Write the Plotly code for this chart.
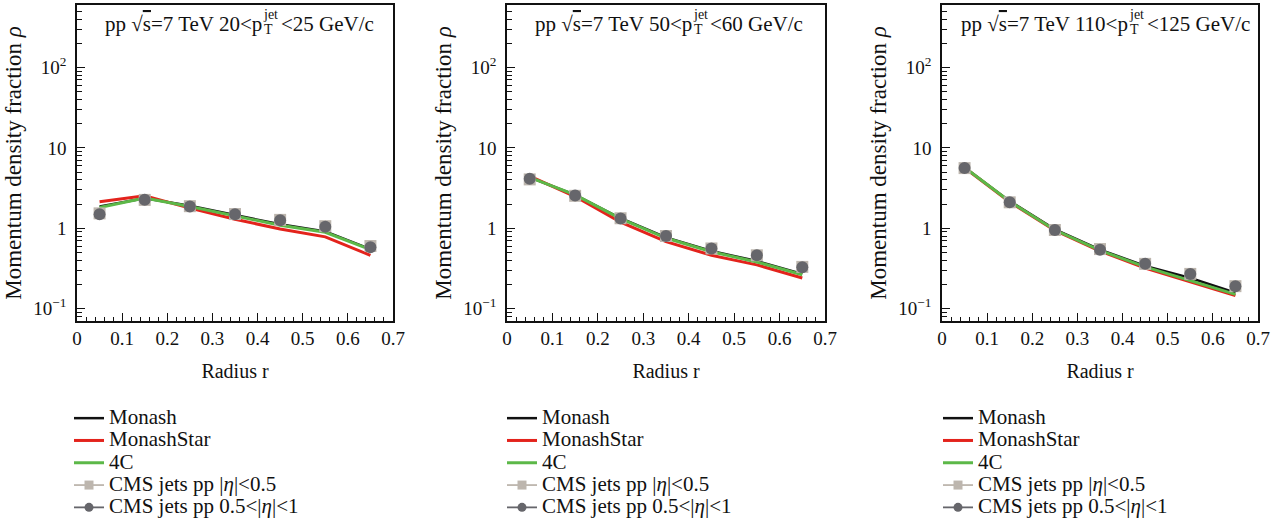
import math
import plotly.graph_objects as go

# ---- data -------------------------------------------------------------
radius = [0.05, 0.15, 0.25, 0.35, 0.45, 0.55, 0.65]

pt_bins = [("20", "25"), ("50", "60"), ("110", "125")]

monash_1 = [1.86, 2.36, 1.90, 1.45, 1.12, 0.91, 0.55]
star_1 = [2.13, 2.54, 1.78, 1.29, 0.98, 0.78, 0.46]
c4_1 = [1.81, 2.38, 1.86, 1.42, 1.09, 0.89, 0.54]
cms_a_1 = [1.53, 2.25, 1.88, 1.50, 1.27, 1.06, 0.60]
cms_b_1 = [1.49, 2.26, 1.86, 1.49, 1.26, 1.04, 0.58]

monash_2 = [4.30, 2.60, 1.33, 0.77, 0.52, 0.39, 0.270]
star_2 = [4.45, 2.48, 1.19, 0.68, 0.46, 0.35, 0.240]
c4_2 = [4.30, 2.60, 1.32, 0.755, 0.51, 0.38, 0.263]
cms_a_2 = [4.05, 2.53, 1.33, 0.80, 0.56, 0.46, 0.33]
cms_b_2 = [4.12, 2.55, 1.32, 0.80, 0.56, 0.46, 0.326]

monash_3 = [5.70, 2.17, 0.97, 0.54, 0.34, 0.240, 0.158]
star_3 = [5.65, 2.12, 0.94, 0.52, 0.32, 0.215, 0.145]
c4_3 = [5.70, 2.15, 0.95, 0.53, 0.33, 0.220, 0.150]
cms_a_3 = [5.60, 2.10, 0.95, 0.55, 0.36, 0.27, 0.19]
cms_b_3 = [5.63, 2.11, 0.95, 0.54, 0.36, 0.27, 0.19]

panels = [
    (monash_1, star_1, c4_1, cms_a_1, cms_b_1),
    (monash_2, star_2, c4_2, cms_a_2, cms_b_2),
    (monash_3, star_3, c4_3, cms_a_3, cms_b_3),
]

series_names = ["Monash", "MonashStar", "4C",
                "CMS jets pp |<i>η</i>|<0.5", "CMS jets pp 0.5<|<i>η</i>|<1"]

y_tickvals = [0.1, 1, 10, 100]
y_ticktext = ["10<sup>−1</sup>", "1", "10", "10<sup>2</sup>"]
x_tickvals = [0, 0.1, 0.2, 0.3, 0.4, 0.5, 0.6, 0.7]
x_ticktext = ["0", "0.1", "0.2", "0.3", "0.4", "0.5", "0.6", "0.7"]

# ---- style ------------------------------------------------------------
W, H = 1287, 527
FONT = "Liberation Serif"
BLACK = "#111111"
RED = "#e3231c"
GREEN = "#5cb848"
SQ_GRAY = "#bdb6ae"
CIRC_GRAY = "#66666b"

# plot frames in pixels: (left, right)
frames_px = [(77, 393), (507, 825), (942, 1258)]
top_px, bottom_px = 5, 321

# title pieces: where "…<p" ends and where the trailing "<hi GeV/c" starts
title_px = [(262, 281), (692, 710), (1128, 1147)]
legend_px = [69, 502, 938]

# legend rows are spaced by the small base font; the visible text is larger
LEGEND_BASE = 14.85
LEGEND_TEXT = 21


def px_x(p):
    return p / W


def px_y(p):
    return 1 - p / H


def legend_label(s):
    return f'<span style="font-size:{LEGEND_TEXT}px">{s}</span>'


y_minor = [m * 10 ** e for e in range(-2, 3) for m in range(2, 10)]
x_minor = [round(i * 0.02, 2) for i in range(0, 36)]

fig = go.Figure()
layout = dict(
    width=W, height=H,
    margin=dict(l=0, r=0, t=0, b=0),
    paper_bgcolor="white", plot_bgcolor="white",
    font=dict(family=FONT, size=19, color=BLACK),
    showlegend=True,
)
annotations = []

for i, (mon, star, c4, cms_a, cms_b) in enumerate(panels):
    n = "" if i == 0 else str(i + 1)
    xa, ya = "x" + n, "y" + n
    leg = "legend" + n

    for vals, color, width, name in [
        (mon, BLACK, 2.5, series_names[0]),
        (star, RED, 3, series_names[1]),
        (c4, GREEN, 3, series_names[2]),
    ]:
        fig.add_trace(go.Scatter(
            x=radius, y=vals, mode="lines", name=legend_label(name),
            line=dict(color=color, width=width),
            xaxis=xa, yaxis=ya, legend=leg,
        ))

    # measured points
    fig.add_trace(go.Scatter(
        x=radius, y=cms_a, mode="markers", showlegend=False,
        marker=dict(symbol="square", size=12, color=SQ_GRAY),
        xaxis=xa, yaxis=ya,
    ))
    fig.add_trace(go.Scatter(
        x=radius, y=cms_b, mode="markers", showlegend=False,
        marker=dict(symbol="circle", size=12, color=CIRC_GRAY),
        xaxis=xa, yaxis=ya,
    ))
    # legend entries for the measured points (line + marker)
    for sym, color, name in [("square", SQ_GRAY, series_names[3]),
                             ("circle", CIRC_GRAY, series_names[4])]:
        fig.add_trace(go.Scatter(
            x=[None], y=[None], mode="lines+markers", name=legend_label(name),
            marker=dict(symbol=sym, size=9, color=color),
            line=dict(color=color, width=1.8),
            xaxis=xa, yaxis=ya, legend=leg,
        ))

    left, right = frames_px[i]
    layout["xaxis" + n] = dict(
        domain=[px_x(left), px_x(right)], anchor=ya,
        range=[0, 0.7], tickmode="array",
        tickvals=x_tickvals, ticktext=x_ticktext,
        ticks="inside", ticklen=8, tickwidth=1.2, tickcolor=BLACK,
        ticklabelstandoff=-1,
        minor=dict(tickmode="array", tickvals=x_minor, ticks="inside",
                   ticklen=4, tickwidth=1.2, tickcolor=BLACK, showgrid=False),
        showline=True, linecolor=BLACK, linewidth=1.5, mirror=True,
        showgrid=False, zeroline=False,
        tickfont=dict(family=FONT, size=19, color=BLACK),
        title=dict(text="Radius r", standoff=16,
                   font=dict(family=FONT, size=20, color=BLACK)),
        automargin=False,
    )
    layout["yaxis" + n] = dict(
        domain=[px_y(bottom_px), px_y(top_px)], anchor=xa,
        type="log", range=[math.log10(0.07), math.log10(600)],
        tickmode="array", tickvals=y_tickvals, ticktext=y_ticktext,
        ticks="inside", ticklen=8, tickwidth=1.2, tickcolor=BLACK,
        ticklabelstandoff=5,
        minor=dict(tickmode="array", tickvals=y_minor, ticks="inside",
                   ticklen=5, tickwidth=1.2, tickcolor=BLACK, showgrid=False),
        showline=True, linecolor=BLACK, linewidth=1.5, mirror=True,
        showgrid=False, zeroline=False,
        tickfont=dict(family=FONT, size=19, color=BLACK),
        title=dict(text="Momentum density fraction <i>ρ</i>", standoff=5,
                   font=dict(family=FONT, size=23, color=BLACK)),
        automargin=False,
    )

    layout[leg] = dict(
        x=px_x(legend_px[i]), y=px_y(402), xanchor="left", yanchor="top",
        bgcolor="rgba(0,0,0,0)", borderwidth=0,
        font=dict(family=FONT, size=LEGEND_BASE, color=BLACK),
        itemwidth=30, tracegroupgap=0,
    )

    # panel label: pp √s=7 TeV lo<p_T^jet<hi GeV/c
    lo, hi = pt_bins[i]
    p_end, tail_start = title_px[i]
    common = dict(xref="paper", yref="paper", showarrow=False,
                  yanchor="middle")
    annotations += [
        dict(text=(f'pp √<span style="text-decoration:overline">s</span>'
                   f'=7 TeV {lo}<p'),
             x=px_x(p_end + 2), y=px_y(24), xanchor="right",
             font=dict(family=FONT, size=21, color=BLACK), **common),
        dict(text="jet", x=px_x(p_end - 1), y=px_y(15), xanchor="left",
             font=dict(family=FONT, size=14, color=BLACK), **common),
        dict(text="T", x=px_x(p_end), y=px_y(30), xanchor="left",
             font=dict(family=FONT, size=14, color=BLACK), **common),
        dict(text=f"<{hi} GeV/c", x=px_x(tail_start - 2), y=px_y(24),
             xanchor="left", font=dict(family=FONT, size=21, color=BLACK),
             **common),
    ]

layout["annotations"] = annotations
fig.update_layout(**layout)
fig.write_html("out.html")
